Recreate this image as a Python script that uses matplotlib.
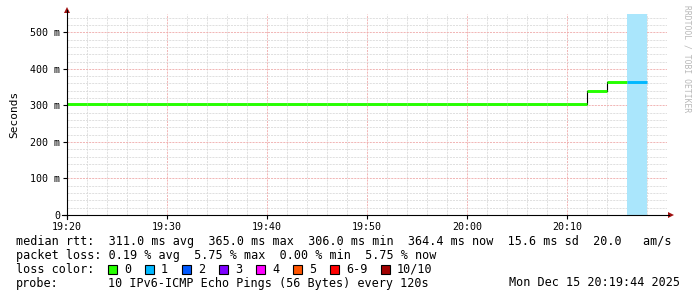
import numpy as np
import matplotlib
matplotlib.use('Agg')
import matplotlib.pyplot as plt
from matplotlib.lines import Line2D
from matplotlib.patches import Polygon, Rectangle

# ── Data ──────────────────────────────────────────────────────────────────────
# minutes after 19:20, one RRD step (120 s) per entry
step_start = [0, 2, 4, 6, 8, 10, 12, 14, 16, 18, 20, 22, 24, 26, 28, 30,
              32, 34, 36, 38, 40, 42, 44, 46, 48, 50, 52, 54, 56]
median_ms = [305, 305, 305, 305, 305, 305, 305, 305, 305, 305, 305, 305, 305,
             305, 305, 305, 305, 305, 305, 305, 305, 305, 305, 305, 305, 305,
             338, 364, 364]
loss_count = [0, 0, 0, 0, 0, 0, 0, 0, 0, 0, 0, 0, 0, 0, 0, 0, 0, 0, 0, 0,
              0, 0, 0, 0, 0, 0, 0, 0, 1]
STEP = 2

x_ticks = [0, 10, 20, 30, 40, 50]
x_labels = ['19:20', '19:30', '19:40', '19:50', '20:00', '20:10']
y_ticks = [0, 100, 200, 300, 400, 500]
y_labels = ['0', '100 m', '200 m', '300 m', '400 m', '500 m']

loss_labels = ['0', '1', '2', '3', '4', '5', '6-9', '10/10']
loss_colors = ['#26ff00', '#00b8ff', '#0059ff', '#7e00ff', '#ff00ff',
               '#ff5500', '#ff0000', '#a10000']
loss_bg = {1: '#aae6fc'}

legend_rows = [
    'median rtt:  311.0 ms avg  365.0 ms max  306.0 ms min  364.4 ms now  15.6 ms sd  20.0   am/s',
    'packet loss: 0.19 % avg  5.75 % max  0.00 % min  5.75 % now',
]
probe_text = '10 IPv6-ICMP Echo Pings (56 Bytes) every 120s'
date_text = 'Mon Dec 15 20:19:44 2025'

# ── Figure geometry (pixels) ──────────────────────────────────────────────────
W, H = 697, 297
X0, X1, Y0, Y1 = 67, 667, 215, 14
MONO = 'DejaVu Sans Mono'


def px(x, y):
    return x / W, 1 - y / H


fig = plt.figure(figsize=(W / 100, H / 100), dpi=100)
ax = fig.add_axes([X0 / W, 1 - Y0 / H, (X1 - X0) / W, (Y0 - Y1) / H])
ax.set_xlim(0, 60)
ax.set_ylim(0, 550)
for s in ax.spines.values():
    s.set_visible(False)

# grid
ax.set_xticks(x_ticks)
ax.set_xticks(np.arange(0, 61, 2), minor=True)
ax.set_yticks(y_ticks)
ax.set_yticks(np.arange(0, 551, 20), minor=True)
ax.set_axisbelow(True)
ax.grid(which='minor', color='#dadada', lw=0.6, ls=(0, (2.5, 1.2)))
ax.grid(which='major', color='#efaaaa', lw=0.6, ls=(0, (2.5, 1.2)))
ax.set_xticklabels(x_labels, fontfamily=MONO, fontsize=7.2)
ax.set_yticklabels(y_labels, fontfamily=MONO, fontsize=7.2)
ax.tick_params(which='major', length=3, width=0.8, color='black', pad=2)
ax.tick_params(which='minor', length=0)
ax.set_ylabel('Seconds', fontfamily=MONO, fontsize=8, labelpad=8)

# loss background bands
for t, l in zip(step_start, loss_count):
    if l in loss_bg:
        ax.axvspan(t, t + STEP, color=loss_bg[l], lw=0, zorder=1)

# median line, coloured by loss, with black step connectors
for i, (t, m, l) in enumerate(zip(step_start, median_ms, loss_count)):
    ax.plot([t, t + STEP], [m, m], color=loss_colors[l], lw=2.1,
            solid_capstyle='butt', zorder=3)
    if i > 0 and median_ms[i - 1] != m:
        ax.plot([t, t], [median_ms[i - 1], m], color='black', lw=0.8, zorder=2)

# axes with arrows
fig.add_artist(Line2D(*zip(px(X0, 219), px(X0, 10)), color='black', lw=0.8))
fig.add_artist(Line2D(*zip(px(62, Y0), px(669, Y0)), color='black', lw=0.8))
fig.add_artist(Polygon([px(64, 13), px(70, 13), px(67, 7)], closed=True,
                       color='#a01010', lw=0))
fig.add_artist(Polygon([px(668, 212), px(668, 218), px(674, 215)], closed=True,
                       color='#a01010', lw=0))

# watermark
fig.text(*px(687, 5), 'RRDTOOL / TOBI OETIKER', rotation=270, ha='center',
         va='top', fontfamily=MONO, fontsize=5.8, color='#b8b8b8')

# legend block
fs = 8.45
for row, y in zip(legend_rows, [241.5, 255.5]):
    fig.text(*px(16, y), row, fontfamily=MONO, fontsize=fs, va='center')
fig.text(*px(16, 269.5), 'loss color:', fontfamily=MONO, fontsize=fs, va='center')
box_x = [108, 145, 182, 219, 256, 293, 330, 381]
for bx, lab, col in zip(box_x, loss_labels, loss_colors):
    fig.add_artist(Rectangle(px(bx, 274), 9 / W, 9 / H, facecolor=col,
                             edgecolor='black', lw=0.8))
    fig.text(*px(bx + 16, 269.5), lab, fontfamily=MONO, fontsize=fs, va='center')
fig.text(*px(16, 283), 'probe:', fontfamily=MONO, fontsize=fs, va='center')
fig.text(*px(108, 283), probe_text, fontfamily=MONO, fontsize=fs, va='center')
fig.text(*px(680, 283), date_text, fontfamily=MONO, fontsize=fs, va='center',
         ha='right')

fig.savefig('out.png', dpi=100)
